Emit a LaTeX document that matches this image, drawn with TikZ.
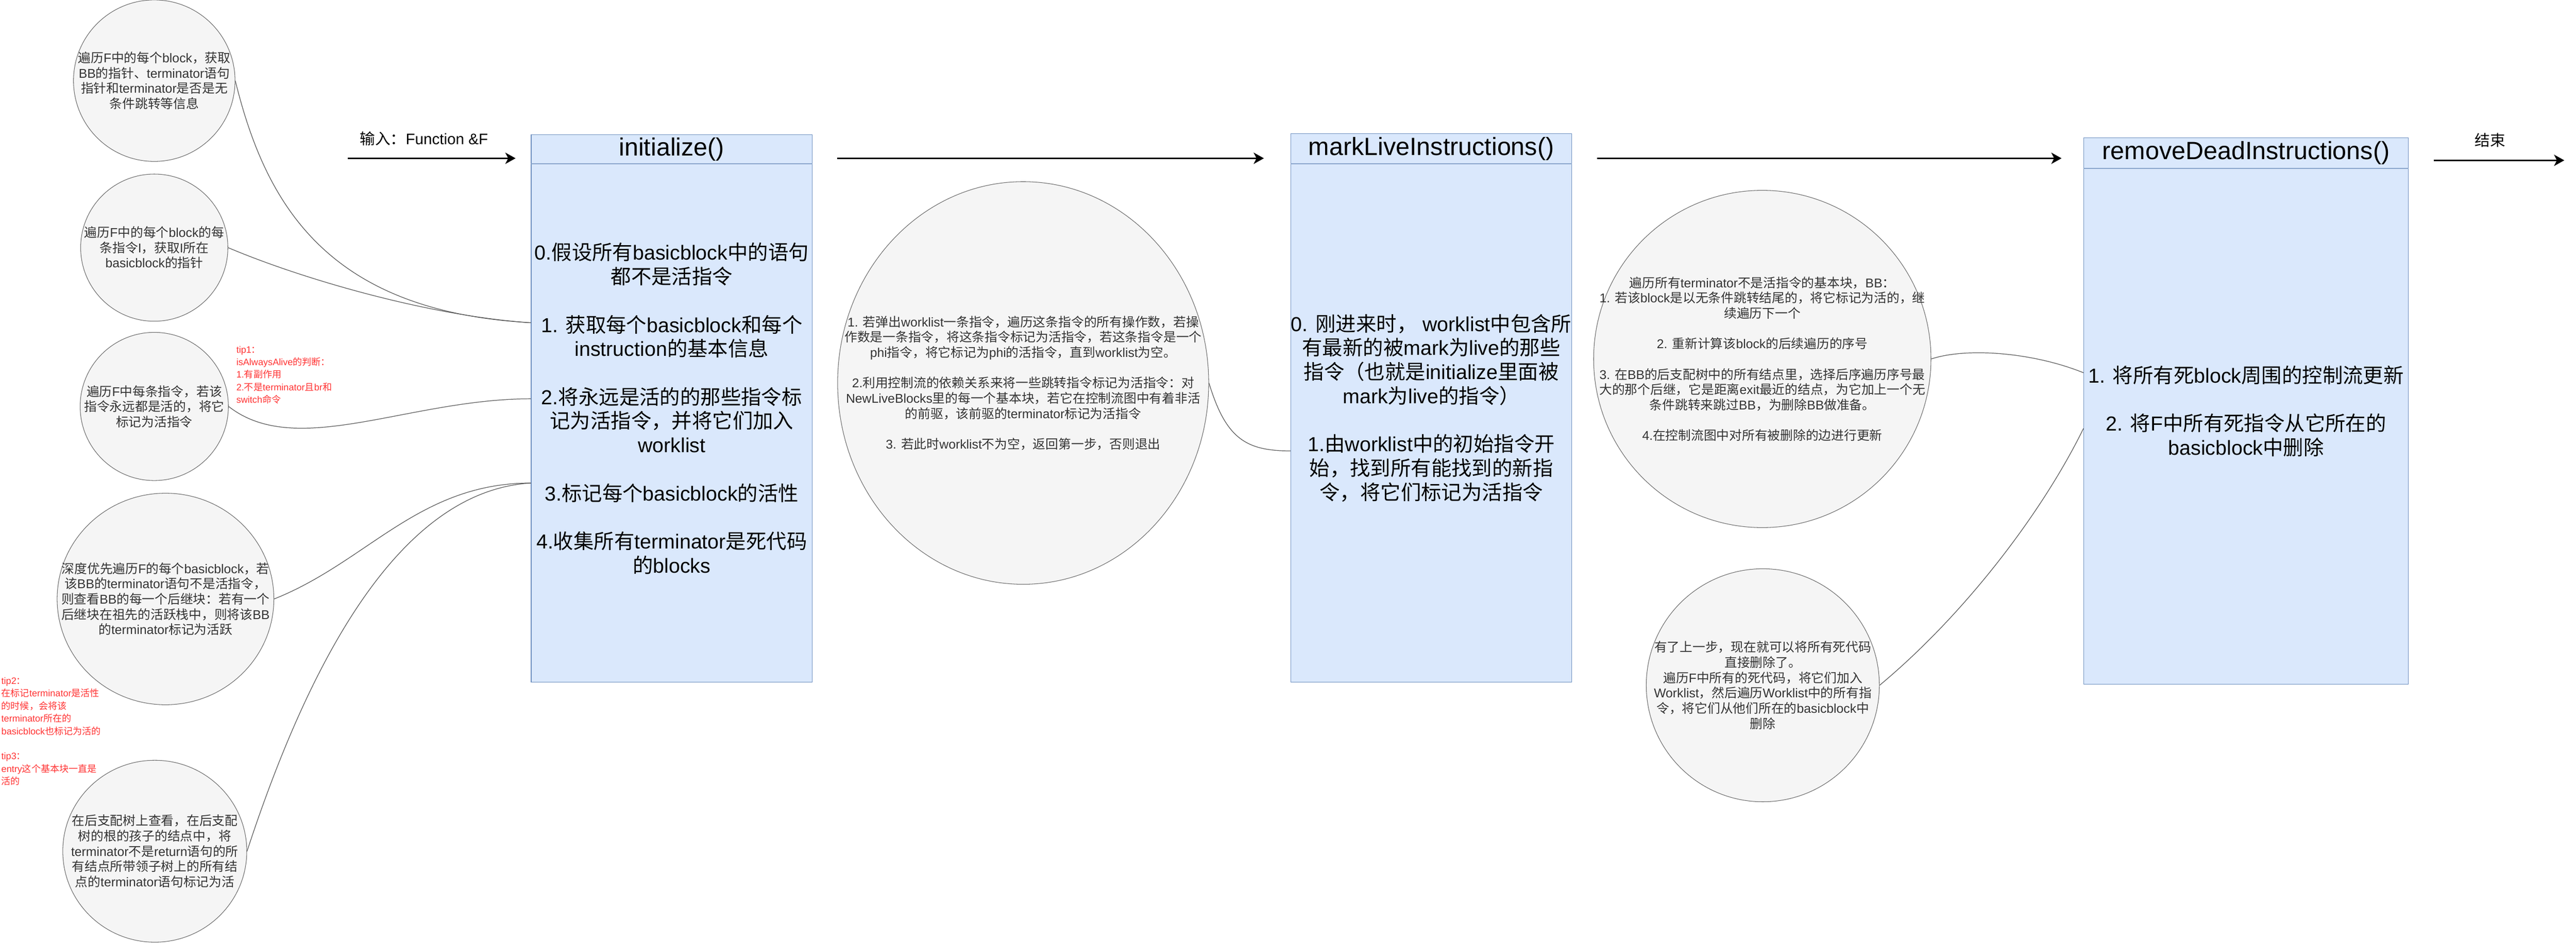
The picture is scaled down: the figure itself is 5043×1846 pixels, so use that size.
\documentclass[tikz,border=0pt]{standalone}
\usepackage{fontspec}
\setmainfont{Liberation Sans}
\newfontfamily\cjk{Noto Sans CJK SC}
\XeTeXinterchartokenstate=1
\newXeTeXintercharclass\cjkcls
\makeatletter
\def\setcjkrange#1#2{\count@=#1\relax
  \loop\ifnum\count@<#2\relax\XeTeXcharclass\count@=\cjkcls\advance\count@\@ne\repeat}
\setcjkrange{"3000}{"3040}
\setcjkrange{"4E00}{"A000}
\setcjkrange{"FF00}{"FFF0}
\makeatother
\XeTeXinterchartoks 0 \cjkcls = {\begingroup\cjk}
\XeTeXinterchartoks 4095 \cjkcls = {\begingroup\cjk}
\XeTeXinterchartoks \cjkcls 0 = {\endgroup}
\XeTeXinterchartoks \cjkcls 4095 = {\endgroup}
\usepackage{tikz}
\usetikzlibrary{shapes.geometric,arrows.meta}
\definecolor{boxfill}{HTML}{DAE8FC}
\definecolor{boxline}{HTML}{6C8EBF}
\definecolor{bubblefill}{HTML}{F5F5F5}
\definecolor{bubbleline}{HTML}{666666}
\definecolor{linkgray}{HTML}{555555}
\definecolor{textgray}{HTML}{333333}
\definecolor{tipred}{HTML}{FF3333}
\newcommand\titlefont{\fontsize{13.9}{16}\selectfont}
\newcommand\boxfont{\fontsize{11.3}{13.4}\selectfont}
\newcommand\circfont{\fontsize{7.1}{8.5}\selectfont}
\newcommand\tipfont{\fontsize{5.2}{7}\selectfont}
\newcommand\labfont{\fontsize{8.5}{10}\selectfont}
\newcommand\gapline{\\[\baselineskip]}
\tikzstyle{bubble} = [ellipse,draw=bubbleline,fill=bubblefill,line width=0.3pt,inner sep=0]
\tikzstyle{ctext} = [align=center,text=textgray,font=\circfont,inner sep=0]
\tikzstyle{fnbox} = [rectangle,draw=boxline,fill=boxfill,line width=0.3pt,inner sep=0,align=center,font=\boxfont]
\tikzstyle{fntitle} = [font=\titlefont,inner sep=0]
\tikzstyle{sep} = [draw=boxline!80,line width=0.5pt]
\tikzstyle{link} = [draw=linkgray,line width=0.35pt]
\tikzstyle{tip} = [align=left,text=tipred,font=\tipfont,anchor=north west,inner sep=0]
\tikzstyle{lab} = [font=\labfont,inner sep=0]

\begin{document}
\begin{tikzpicture}[x=0.01cm,y=-0.01cm,post/.style={-{Stealth[length=5.7pt,width=6.3pt,inset=1.6pt]},line width=0.7pt}]
    \useasboundingbox (0,0) rectangle (5043,1846);

    \node[bubble,minimum width=3.16cm,minimum height=3.16cm] (c1) at (302,158) {};
    \node[bubble,minimum width=2.88cm,minimum height=2.88cm] (c2) at (302,485) {};
    \node[bubble,minimum width=2.9cm,minimum height=2.9cm] (c3) at (302,796) {};
    \node[bubble,minimum width=4.24cm,minimum height=4.14cm] (c4) at (324,1173) {};
    \node[bubble,minimum width=3.6cm,minimum height=3.56cm] (c5) at (303,1667) {};

    \node[ctext] at (c1) {遍历F中的每个block，获取\\BB的指针、terminator语句\\指针和terminator是否是无\\条件跳转等信息};
    \node[ctext] at (c2) {遍历F中的每个block的每\\条指令I，获取I所在\\basicblock的指针};
    \node[ctext] at (c3) {遍历F中每条指令，若该\\指令永远都是活的，将它\\标记为活指令};
    \node[ctext] at (c4) {深度优先遍历F的每个basicblock，若\\该BB的terminator语句不是活指令，\\则查看BB的每一个后继块：若有一个\\后继块在祖先的活跃栈中，则将该BB\\的terminator标记为活跃};
    \node[ctext] at (c5) {在后支配树上查看，在后支配\\树的根的孩子的结点中，将\\terminator不是return语句的所\\有结点所带领子树上的所有结\\点的terminator语句标记为活};

    \node[tip] (tip1) at (462,677) {tip1：\\isAlwaysAlive的判断：\\1.有副作用\\2.不是terminator且br和\\switch命令};
    \node[tip] (tip2) at (2,1326) {tip2：\\在标记terminator是活性\\的时候，会将该\\terminator所在的\\basicblock也标记为活的\gapline tip3：\\entry这个基本块一直是\\活的};

    \node[fnbox,minimum width=5.5cm,minimum height=10.72cm] (init) at (1315,800) {0.假设所有basicblock中的语句\\都不是活指令\gapline 1. 获取每个basicblock和每个\\instruction的基本信息\gapline 2.将永远是活的的那些指令标\\记为活指令，并将它们加入\\worklist\gapline 3.标记每个basicblock的活性\gapline 4.收集所有terminator是死代码\\的blocks};
    \node[fntitle] (tinit) at (1315,292) {initialize()};
    \draw[sep] (init.west |- 0,321) -- (init.east |- 0,321);

    \node[bubble,minimum width=7.26cm,minimum height=7.88cm] (mid) at (2003,750) {};
    \node[ctext] at (mid) {1. 若弹出worklist一条指令，遍历这条指令的所有操作数，若操\\作数是一条指令，将这条指令标记为活指令，若这条指令是一个\\phi指令，将它标记为phi的活指令，直到worklist为空。\gapline 2.利用控制流的依赖关系来将一些跳转指令标记为活指令：对\\NewLiveBlocks里的每一个基本块，若它在控制流图中有着非活\\的前驱，该前驱的terminator标记为活指令\gapline 3. 若此时worklist不为空，返回第一步，否则退出};

    \node[fnbox,minimum width=5.5cm,minimum height=10.74cm] (mark) at (2802,799) {0. 刚进来时， worklist中包含所\\有最新的被mark为live的那些\\指令（也就是initialize里面被\\mark为live的指令）\gapline 1.由worklist中的初始指令开\\始，找到所有能找到的新指\\令，将它们标记为活指令};
    \node[fntitle] (tmark) at (2802,291) {markLiveInstructions()};
    \draw[sep] (mark.west |- 0,321) -- (mark.east |- 0,321);

    \node[bubble,minimum width=6.6cm,minimum height=6.6cm] (tr) at (3450,703) {};
    \node[ctext] at (tr) {遍历所有terminator不是活指令的基本块，BB：\\1. 若该block是以无条件跳转结尾的，将它标记为活的，继\\续遍历下一个\gapline 2. 重新计算该block的后续遍历的序号\gapline 3. 在BB的后支配树中的所有结点里，选择后序遍历序号最\\大的那个后继，它是距离exit最近的结点，为它加上一个无\\条件跳转来跳过BB，为删除BB做准备。\gapline 4.在控制流图中对所有被删除的边进行更新};

    \node[bubble,minimum width=4.56cm,minimum height=4.56cm] (br) at (3451,1342) {};
    \node[ctext] at (br) {有了上一步，现在就可以将所有死代码\\直接删除了。\\遍历F中所有的死代码，将它们加入\\Worklist，然后遍历Worklist中的所有指\\令，将它们从他们所在的basicblock中\\删除};

    \node[fnbox,minimum width=6.35cm,minimum height=10.7cm] (remove) at (4397,805) {1. 将所有死block周围的控制流更新\gapline 2. 将F中所有死指令从它所在的\\basicblock中删除};
    \node[fntitle] (tremove) at (4397,300) {removeDeadInstructions()};
    \draw[sep] (remove.west |- 0,330) -- (remove.east |- 0,330);

    \coordinate (fin) at (681,310);
    \coordinate (fout) at (5020,314);
    \node[lab] (lin) at (830,272) {输入：Function \&F};
    \node[lab] (lend) at (4875,275) {结束};

    \draw[post,shorten >=0.3cm] (fin) -- (init.west |- fin);
    \draw[post,shorten <=0.48cm,shorten >=0.52cm] (init.east |- 0,310) -- (mark.west |- 0,310);
    \draw[post,shorten <=0.49cm,shorten >=0.43cm] (mark.east |- 0,310) -- (remove.west |- 0,310);
    \draw[post,shorten <=0.49cm] (remove.east |- fout) -- (fout);

    \draw[link] (c1.east) .. controls (520,400) and (640,610) .. (init.west |- 0,632);
    \draw[link] (c2.east) .. controls (600,550) and (850,620) .. (init.west |- 0,632);
    \draw[link] (c3.east) .. controls (580,900) and (800,781) .. (init.west |- 0,781);
    \draw[link] (c4.east) .. controls (720,1100) and (820,946) .. (init.west |- 0,946);
    \draw[link] (c5.east) .. controls (620,1250) and (800,960) .. (init.west |- 0,946);
    \draw[link] (mid.east) .. controls (2400,860) and (2440,883) .. (mark.west |- 0,883);
    \draw[link] (tr.east) .. controls (3850,680) and (3980,690) .. (remove.west |- 0,730);
    \draw[link] (br.east) .. controls (3850,1200) and (4000,1000) .. (remove.west |- 0,839);

\end{tikzpicture}
\end{document}
